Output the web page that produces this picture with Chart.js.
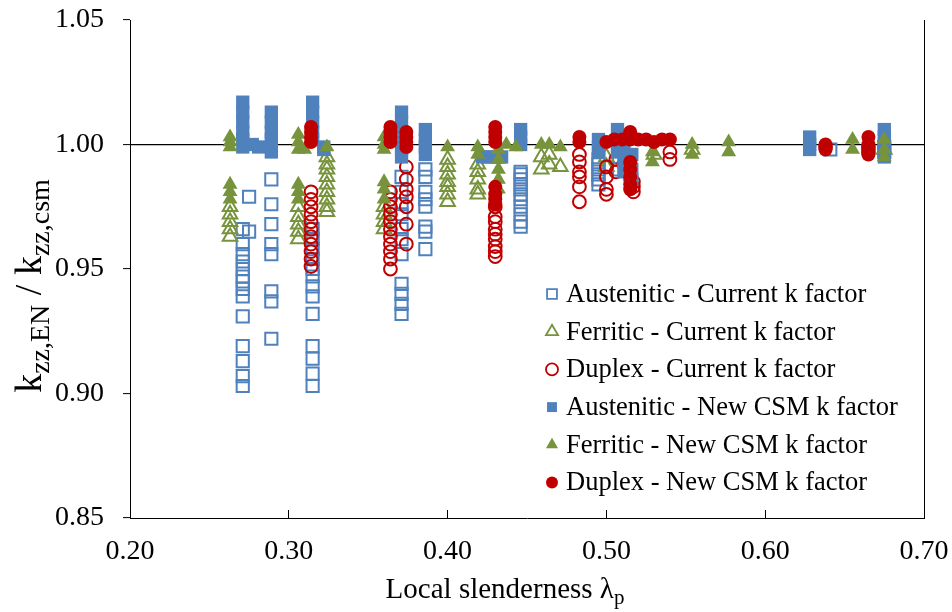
<!DOCTYPE html>
<html>
<head>
<meta charset="utf-8">
<script src="https://cdn.jsdelivr.net/npm/chart.js@4/dist/chart.umd.min.js"></script>
<style>
  html, body { margin: 0; padding: 0; background: #fff; }
  #wrap { width: 952px; height: 612px; position: relative; }
</style>
</head>
<body>
<div id="wrap"><canvas id="chart"></canvas></div>
<script>
// ---- data: each entry is [slenderness, [ratios read at that slenderness]] ----
const austeniticCurrent = [
  [0.275, [0.979, 0.965]],
  [0.271, [0.966, 0.960, 0.956, 0.953, 0.950, 0.947, 0.945, 0.942, 0.939, 0.931, 0.919, 0.913, 0.907, 0.903]],
  [0.289, [0.986, 0.976, 0.968, 0.960, 0.956, 0.941, 0.937, 0.922]],
  [0.315, [0.966, 0.962, 0.958, 0.954, 0.950, 0.947, 0.943, 0.939, 0.932, 0.919, 0.914, 0.908, 0.903]],
  [0.371, [0.987, 0.981, 0.976, 0.972, 0.966, 0.962, 0.956, 0.944, 0.940, 0.936, 0.932]],
  [0.386, [0.990, 0.987, 0.981, 0.978, 0.975, 0.967, 0.965, 0.958]],
  [0.446, [0.989, 0.988, 0.986, 0.984, 0.982, 0.980, 0.978, 0.975, 0.972, 0.969, 0.967]],
  [0.495, [0.994, 0.992, 0.990, 0.988, 0.986, 0.984]],
  [0.508, [0.995, 0.990]],
  [0.515, [0.993, 0.988]],
  [0.641, [0.998]],
  [0.675, [0.999, 0.997]]
];
const ferriticCurrent = [
  [0.263, [0.975, 0.972, 0.969, 0.966, 0.963]],
  [0.306, [0.975, 0.971, 0.968, 0.965, 0.962]],
  [0.324, [0.995, 0.992, 0.990, 0.987, 0.984, 0.981, 0.978, 0.975, 0.973]],
  [0.360, [0.975, 0.972, 0.969, 0.966]],
  [0.400, [0.994, 0.991, 0.988, 0.985, 0.983, 0.980, 0.977]],
  [0.419, [0.992, 0.989, 0.986, 0.982, 0.980]],
  [0.459, [0.995, 0.990]],
  [0.464, [0.996, 0.992]],
  [0.471, [0.991]],
  [0.500, [0.995, 0.991]],
  [0.530, [0.996]],
  [0.554, [0.998]],
  [0.675, [0.998]]
];
const duplexCurrent = [
  [0.314, [0.981, 0.978, 0.975, 0.972, 0.969, 0.966, 0.963, 0.960, 0.957, 0.954, 0.951]],
  [0.364, [0.981, 0.978, 0.975, 0.972, 0.969, 0.966, 0.963, 0.960, 0.957, 0.954, 0.950]],
  [0.374, [0.991, 0.986, 0.982, 0.979, 0.975, 0.968, 0.960]],
  [0.430, [0.975, 0.971, 0.969, 0.966, 0.964, 0.962, 0.959, 0.957, 0.955]],
  [0.483, [0.996, 0.993, 0.989, 0.987, 0.983, 0.977]],
  [0.500, [0.991, 0.987, 0.982, 0.980]],
  [0.506, [0.994, 0.989]],
  [0.511, [0.992]],
  [0.517, [0.985, 0.983, 0.981]],
  [0.540, [0.997, 0.994]],
  [0.638, [0.999]],
  [0.665, [0.999, 0.997]]
];
const austeniticNew = [
  [0.271, [1.017, 1.013, 1.009, 1.005, 1.002, 0.999]],
  [0.277, [1.000]],
  [0.281, [0.999]],
  [0.289, [1.013, 1.009, 1.005, 1.002, 0.999, 0.997]],
  [0.315, [1.017, 1.013, 1.009, 1.005, 1.002]],
  [0.322, [0.999, 0.998]],
  [0.371, [1.013, 1.009, 1.005, 1.002, 0.998, 0.995]],
  [0.386, [1.006, 1.002, 0.999, 0.996]],
  [0.422, [0.995]], [0.426, [0.995]], [0.430, [0.995]], [0.434, [0.995]],
  [0.446, [1.006, 1.003, 1.000]],
  [0.495, [1.002, 0.999, 0.997]],
  [0.507, [1.006, 1.002, 0.999, 0.997]],
  [0.511, [0.998, 0.993, 0.989]],
  [0.516, [0.996, 0.990, 0.986]],
  [0.628, [1.003, 1.000, 0.998]],
  [0.675, [1.006, 1.003, 1.000, 0.997, 0.995]]
];
const ferriticNew = [
  [0.263, [1.003, 1.001, 0.999, 0.984, 0.981, 0.978]],
  [0.306, [1.004, 1.001, 0.998, 0.984, 0.981, 0.978]],
  [0.310, [0.998]],
  [0.324, [0.999]],
  [0.360, [1.003, 1.000, 0.998, 0.985, 0.982, 0.978]],
  [0.400, [0.999]],
  [0.419, [0.999, 0.996]],
  [0.432, [0.998, 0.994, 0.990, 0.986, 0.982]],
  [0.437, [1.000]],
  [0.443, [0.999]],
  [0.459, [1.000]], [0.464, [1.000]], [0.471, [0.999]],
  [0.529, [0.997, 0.993]],
  [0.554, [1.000, 0.996]],
  [0.577, [1.001, 0.997]],
  [0.655, [1.002, 0.998]],
  [0.675, [1.002, 0.998, 0.995]]
];
const duplexNew = [
  [0.314, [1.007, 1.005, 1.003, 1.001]],
  [0.364, [1.007, 1.005, 1.003, 1.001]],
  [0.374, [1.005, 1.003, 1.001, 0.999]],
  [0.430, [1.007, 1.005, 1.003, 1.001, 0.983, 0.980, 0.978, 0.976]],
  [0.483, [1.003, 1.001]],
  [0.500, [1.001]], [0.505, [1.002]], [0.510, [1.002]],
  [0.515, [1.005, 1.002, 0.993, 0.990, 0.987, 0.984, 0.982]],
  [0.520, [1.002]], [0.525, [1.002]], [0.530, [1.001]], [0.535, [1.002]], [0.540, [1.002]],
  [0.638, [1.000, 0.998]],
  [0.665, [1.003, 1.000, 0.998, 0.996]]
];

const seriesNames = [
  "Austenitic - Current k factor",
  "Ferritic - Current k factor",
  "Duplex - Current k factor",
  "Austenitic - New CSM k factor",
  "Ferritic - New CSM k factor",
  "Duplex - New CSM k factor"
];
const xRange = [0.20, 0.70], xStep = 0.10;
const yRange = [0.85, 1.05], yStep = 0.05;

const BLUE = "#4F81BD", GREEN = "#77933C", RED = "#C00000";
const FONT = "'Liberation Serif', 'Times New Roman', serif";

function toPoints(cols) {
  return cols.flatMap(([x, ys]) => ys.map(y => ({ x, y })));
}

// open markers are drawn first (Excel series order), filled ones on top
const styles = [
  { color: BLUE, style: "rect", r: 8.6, filled: false },
  { color: GREEN, style: "triangle", r: 8.4, filled: false },
  { color: RED, style: "circle", r: 6.4, filled: false },
  { color: BLUE, style: "rect", r: 9.4, filled: true },
  { color: GREEN, style: "triangle", r: 8.6, filled: true },
  { color: RED, style: "circle", r: 7, filled: true }
];
const allSeries = [austeniticCurrent, ferriticCurrent, duplexCurrent, austeniticNew, ferriticNew, duplexNew];

const datasets = allSeries.map((s, i) => {
  const st = styles[i];
  return {
    label: seriesNames[i],
    data: toPoints(s),
    pointStyle: st.style,
    pointRadius: st.r,
    pointHoverRadius: st.r,
    pointBorderWidth: st.filled ? 0 : 2,
    borderColor: st.color,
    pointBorderColor: st.color,
    backgroundColor: st.filled ? st.color : "rgba(0,0,0,0)",
    pointBackgroundColor: st.filled ? st.color : "rgba(0,0,0,0)",
    showLine: false,
    order: allSeries.length - i
  };
});

// axis titles with subscripts + legend box, drawn on the canvas
const paintLabels = {
  id: "paintLabels",
  afterDraw(chart) {
    const ctx = chart.ctx;

    function runs(parts, x0, y0) {
      let w = 0;
      parts.forEach(p => { ctx.font = p[1] + "px " + FONT; w += ctx.measureText(p[0]).width; });
      let x = x0 - w / 2;
      parts.forEach(p => {
        ctx.font = p[1] + "px " + FONT;
        ctx.fillText(p[0], x, y0 + p[2]);
        x += ctx.measureText(p[0]).width;
      });
    }

    ctx.save();
    ctx.fillStyle = "#000";
    ctx.textBaseline = "alphabetic";
    ctx.textAlign = "left";

    // x title
    runs([["Local slenderness \u03BB", 29, 0], ["p", 21, 6]], 505, 598);

    // y title, rotated
    ctx.save();
    ctx.translate(41, 286);
    ctx.rotate(-Math.PI / 2);
    runs([["k", 38, 0], ["zz,EN", 28, 8], [" / k", 38, 0], ["zz,csm", 28, 8]], 0, 0);
    ctx.restore();

    // legend
    const lx = 552, tx = 566, ly0 = 294, dy = 37.7;
    ctx.font = "26.5px " + FONT;
    ctx.textBaseline = "middle";
    datasets.forEach((d, i) => {
      const y = ly0 + i * dy;
      const st = styles[i];
      ctx.fillStyle = st.filled ? st.color : "rgba(0,0,0,0)";
      ctx.strokeStyle = st.color;
      ctx.lineWidth = st.filled ? 0 : 1.8;
      Chart.helpers.drawPoint(ctx, {
        pointStyle: st.style,
        radius: st.style === "circle" ? 6 : 7,
        rotation: 0,
        borderWidth: st.filled ? 0 : 1.8
      }, lx, y);
      ctx.fillStyle = "#000";
      ctx.fillText(d.label, tx, y + 1);
    });
    ctx.restore();
  }
};

// keep the plot box fixed: no automatic label overhang padding
function fixX(s) { s.height = 94; s.paddingLeft = 0; s.paddingRight = 0; }
function fixY(s) { s.width = 130; s.paddingTop = 0; s.paddingBottom = 0; }

new Chart(document.getElementById("chart"), {
  type: "scatter",
  data: { datasets },
  options: {
    responsive: true,
    maintainAspectRatio: false,
    animation: false,
    devicePixelRatio: 1,
    layout: { padding: { top: 20, right: 28, left: 0, bottom: 0 } },
    plugins: { legend: { display: false }, tooltip: { enabled: false } },
    scales: {
      x: {
        type: "linear",
        min: xRange[0], max: xRange[1],
        afterFit: fixX,
        ticks: {
          stepSize: xStep,
          padding: 25,
          color: "#000",
          font: { family: FONT, size: 28 },
          callback: v => Number(v).toFixed(2)
        },
        grid: { drawOnChartArea: false, drawTicks: true, tickLength: -8, tickColor: "#000", tickWidth: 1 },
        border: { color: "#000", width: 1 }
      },
      y: {
        type: "linear",
        min: yRange[0], max: yRange[1],
        afterFit: fixY,
        ticks: {
          stepSize: yStep,
          padding: 19,
          color: "#000",
          font: { family: FONT, size: 28 },
          callback: v => Number(v).toFixed(2)
        },
        grid: {
          color: c => (c.tick && Math.abs(c.tick.value - 1) < 1e-6) ? "#000" : "rgba(0,0,0,0)",
          lineWidth: 1.2,
          tickColor: "#000",
          tickLength: 7,
          tickWidth: 1
        },
        border: { color: "#000", width: 1 }
      },
      y2: {
        type: "linear",
        position: "right",
        min: yRange[0], max: yRange[1],
        afterFit: s => { s.width = 0; s.paddingTop = 0; s.paddingBottom = 0; },
        ticks: { display: false },
        grid: { drawOnChartArea: false, drawTicks: false },
        border: { color: "#000", width: 1 }
      }
    }
  },
  plugins: [paintLabels]
});
</script>
</body>
</html>
